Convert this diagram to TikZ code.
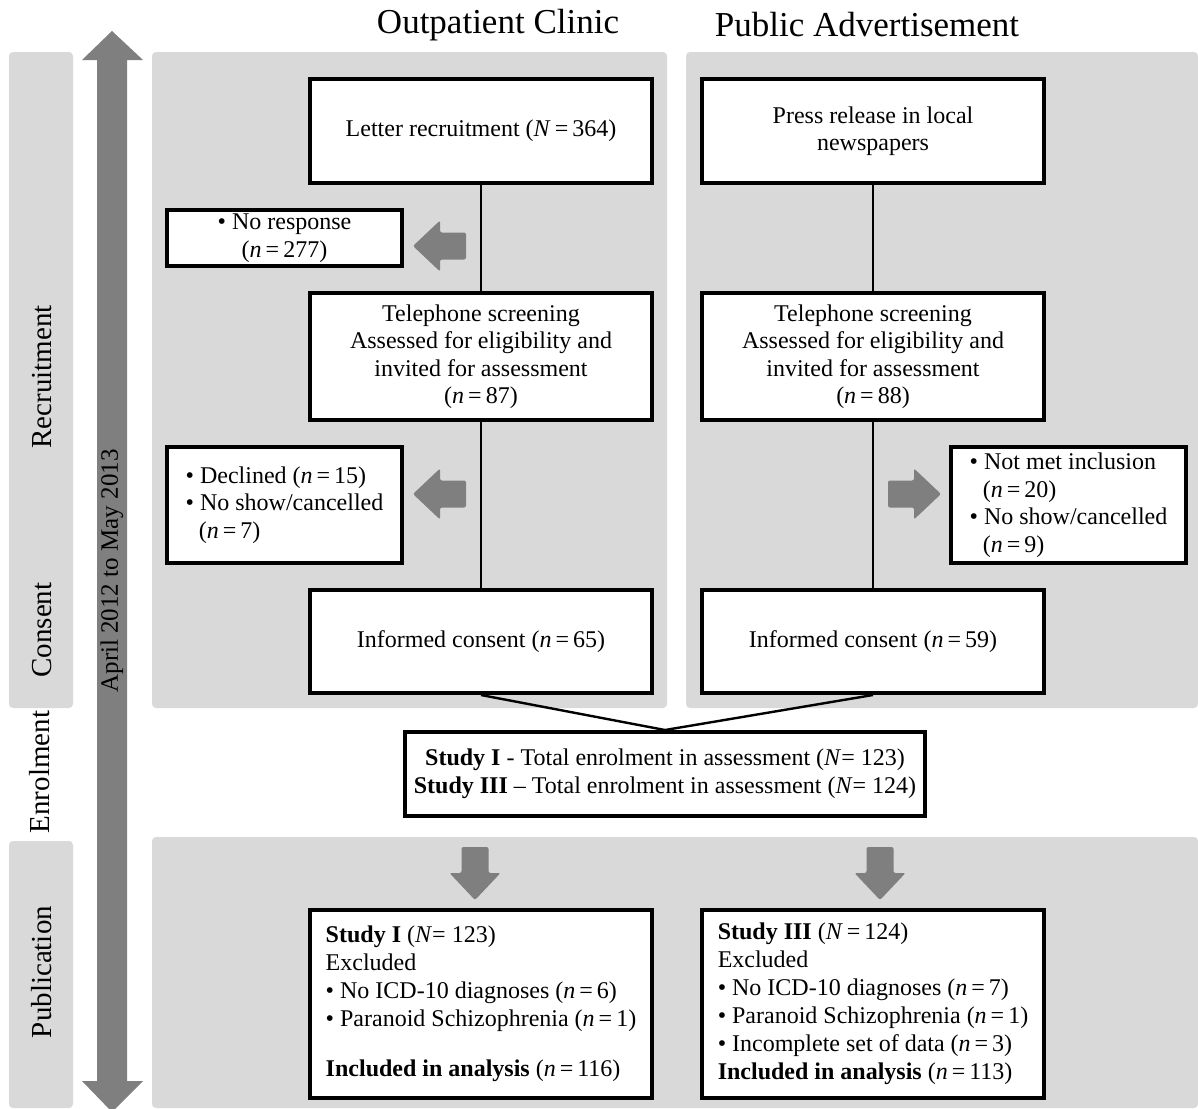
\documentclass[tikz,border=0pt]{standalone}
\usepackage{fontspec}
\setmainfont{Liberation Serif}
\usetikzlibrary{calc,positioning}
\definecolor{panelgray}{HTML}{D9D9D9}
\definecolor{arrowgray}{HTML}{7F7F7F}
\newcommand{\nis}[1]{(\textit{n}\,=\,#1)}

\begin{document}
\begin{tikzpicture}[x=0.5pt,y=-0.5pt,
    box/.style={draw, line width=2pt, fill=white, align=center, inner sep=2pt,
      font=\fontsize{12}{13.75}\selectfont},
    listbox/.style={box, align=left},
    studybox/.style={box, align=left, font=\fontsize{12}{14}\selectfont},
    panel/.style={fill=panelgray, rounded corners=2pt},
    phase/.style={rotate=90, font=\fontsize{14.5}{16}\selectfont},
    heading/.style={font=\fontsize{17.5}{20}\selectfont},
    link/.style={line width=1.2pt},
    pics/blockarrow/.style={code={
      \fill[arrowgray, rounded corners=1pt] (0,-13.5) -- (26,-13.5) -- (26,-25.5)
        -- (53,0) -- (26,25.5) -- (26,13.5) -- (0,13.5) -- cycle;}}]
    \useasboundingbox (0,0) rectangle (1198,1108);
    \pgfmathsetmacro{\wide}{171}  % big boxes, pt
    \pgfmathsetmacro{\side}{117.5}% side boxes, pt

    % background panels
    \fill[panel] (9,52) rectangle (73,708);
    \fill[panel] (9,841) rectangle (73,1108);
    \fill[panel] (152,52) rectangle (667,708);
    \fill[panel] (686,52) rectangle (1198,708);
    \fill[panel] (152,837) rectangle (1198,1108);

    % time arrow
    \fill[arrowgray] (112,31) -- (143,60) -- (127,60) -- (127,1081) -- (143,1081)
      -- (112,1112) -- (82,1081) -- (97,1081) -- (97,60) -- (82,60) -- cycle;
    \node (period) at (112,571) [rotate=90, font=\fontsize{12.5}{14}\selectfont]
      {April 2012 to May 2013};

    % phases
    \node (recruit) at (42,377) [phase] {Recruitment};
    \node (consent) at (42,630) [phase] {Consent};
    \node (enrolment) at (40,772) [phase] {Enrolment};
    \node (publication) at (42,972) [phase] {Publication};

    % headings
    \node (clinic) at (498,25) [heading] {Outpatient Clinic};
    \node (advert) at (867,25) [heading] {Public Advertisement};

    % outpatient column
    \node (letter) at (481,131) [box, minimum width=\wide pt, minimum height=52pt]
      {Letter recruitment (\textit{N}\,=\,364)};
    \node (noresp) at (284.5,238) [box, minimum width=\side pt, minimum height=28pt]
      {\textbullet\ No response\\\nis{277}};
    \node (phone1) at (481,356.5) [box, minimum width=\wide pt, minimum height=63.5pt]
      {Telephone screening\\Assessed for eligibility and\\invited for assessment\\\nis{87}};
    \node (declined) at (284.5,505) [listbox, minimum width=\side pt, minimum height=58pt]
      {\textbullet\ Declined \nis{15}\\\textbullet\ No show/cancelled\\\hspace*{0.55em}\nis{7}};
    \node (inform1) at (481,641.5) [box, minimum width=\wide pt, minimum height=51.5pt]
      {Informed consent \nis{65}};

    % advertisement column
    \node (press) at (873,131) [box, minimum width=\wide pt, minimum height=52pt]
      {Press release in local\\newspapers};
    \node (phone2) at (873,356.5) [box, minimum width=\wide pt, minimum height=63.5pt]
      {Telephone screening\\Assessed for eligibility and\\invited for assessment\\\nis{88}};
    \node (notmet) at (1068.5,505) [listbox, minimum width=\side pt, minimum height=58pt]
      {\textbullet\ Not met inclusion\\\hspace*{0.55em}\nis{20}\\\textbullet\ No show/cancelled\\\hspace*{0.55em}\nis{9}};
    \node (inform2) at (873,641.5) [box, minimum width=\wide pt, minimum height=51.5pt]
      {Informed consent \nis{59}};

    % enrolment and studies
    \node (enrol) at (665,774) [box, minimum width=260pt, minimum height=42pt]
      {\textbf{Study I} - Total enrolment in assessment (\textit{N}= 123)\\
       \textbf{Study III} -- Total enrolment in assessment (\textit{N}= 124)};
    \node (study1) at (481,1004) [studybox, minimum width=\wide pt, minimum height=94pt]
      {\textbf{Study I} (\textit{N}= 123)\\Excluded\\\textbullet\ No ICD-10 diagnoses \nis{6}\\
       \textbullet\ Paranoid Schizophrenia \nis{1}\\[11pt]\textbf{Included in analysis} \nis{116}};
    \node (study3) at (873,1004) [studybox, minimum width=\wide pt, minimum height=94pt]
      {\textbf{Study III} (\textit{N}\,=\,124)\\Excluded\\\textbullet\ No ICD-10 diagnoses \nis{7}\\
       \textbullet\ Paranoid Schizophrenia \nis{1}\\\textbullet\ Incomplete set of data \nis{3}\\
       \textbf{Included in analysis} \nis{113}};

    % connectors
    \draw[link] (letter) -- (phone1) -- (inform1);
    \draw[link] (press) -- (phone2) -- (inform2);
    \draw[link] (inform1.south) -- (enrol.north) -- (inform2.south);

    % block arrows
    \pic at (466,246) [rotate=180] {blockarrow};
    \pic at (466,494) [rotate=180] {blockarrow};
    \pic at (888,494) {blockarrow};
    \pic at (475,847) [rotate=-90] {blockarrow};
    \pic at (880,847) [rotate=-90] {blockarrow};
\end{tikzpicture}
\end{document}
